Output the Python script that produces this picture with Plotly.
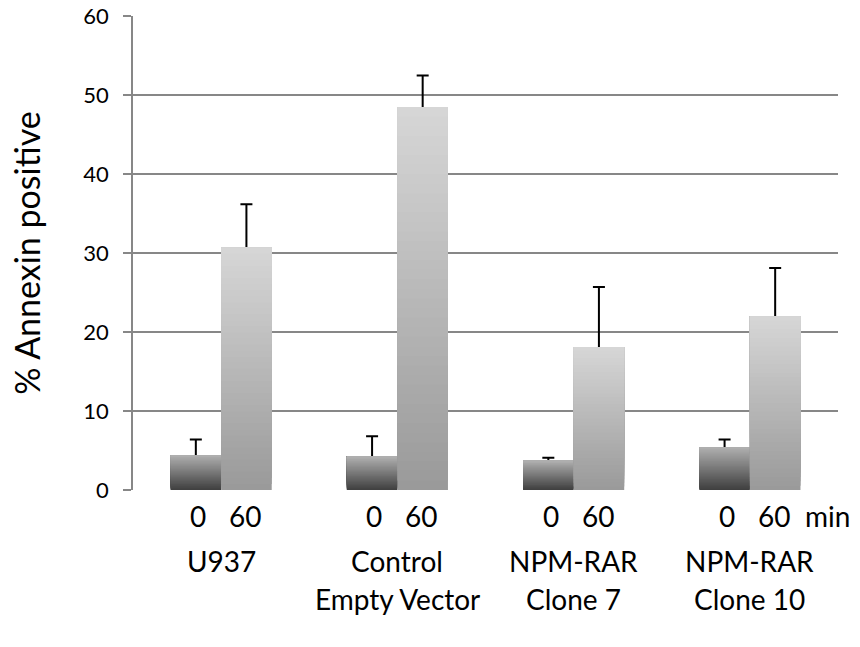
import plotly.graph_objects as go

# ---- data ----
categories = ["U937", "Control Empty Vector", "NPM-RAR Clone 7", "NPM-RAR Clone 10"]
label_line1 = ["U937", "Control", "NPM-RAR", "NPM-RAR"]
label_line2 = ["", "Empty Vector", "Clone 7", "Clone 10"]
time_labels = ["0", "60"]
values_0 = [4.4, 4.2, 3.7, 5.4]
err_0 = [2.0, 2.6, 0.4, 1.0]
values_60 = [30.7, 48.5, 18.1, 22.0]
err_60 = [5.5, 4.0, 7.6, 6.1]
y_ticks = [0, 10, 20, 30, 40, 50, 60]

FONT = "Lato, Open Sans, sans-serif"
N_SEG = 40
HIDDEN_MINUS = 0.4  # lower end of error bar tucked inside the bar (cap hidden)


def lerp(c1, c2, t):
    return "rgb(%d,%d,%d)" % tuple(round(a + (b - a) * t) for a, b in zip(c1, c2))


def gradient_bars(fig, values, errs, group, c_bottom, c_top):
    # overlapping bars: each layer starts higher and reaches the full value,
    # later layers paint over earlier ones -> smooth vertical gradient
    for i in range(N_SEG):
        t = i / (N_SEG - 1)
        base = [v * i / N_SEG for v in values]
        height = [v - b for v, b in zip(values, base)]
        kw = {}
        if i == 0:
            kw["error_y"] = dict(type="data", array=errs,
                                 arrayminus=[HIDDEN_MINUS] * len(errs),
                                 symmetric=False, color="black", thickness=2, width=6)
        fig.add_trace(go.Bar(
            x=categories, y=height, base=base, offsetgroup=group,
            marker=dict(color=lerp(c_bottom, c_top, t), line=dict(width=0)),
            showlegend=False, hoverinfo="skip", **kw))


fig = go.Figure()
gradient_bars(fig, values_0, err_0, "t0", (64, 64, 64), (174, 174, 174))
gradient_bars(fig, values_60, err_60, "t60", (154, 154, 154), (214, 214, 214))

LBL = dict(size=28, family=FONT, color="black")
annotations = []
for cat, l1, l2 in zip(categories, label_line1, label_line2):
    annotations.append(dict(x=cat, y=-0.055, xref="x", yref="paper", text=time_labels[0],
                            showarrow=False, xshift=-23, yanchor="middle", font=LBL))
    annotations.append(dict(x=cat, y=-0.055, xref="x", yref="paper", text=time_labels[1],
                            showarrow=False, xshift=24, yanchor="middle", font=LBL))
    annotations.append(dict(x=cat, y=-0.149, xref="x", yref="paper", text=l1,
                            showarrow=False, yanchor="middle", font=LBL))
    if l2:
        annotations.append(dict(x=cat, y=-0.229, xref="x", yref="paper", text=l2,
                                showarrow=False, yanchor="middle", font=LBL))
annotations.append(dict(x=categories[-1], y=-0.055, xref="x", yref="paper", text="min",
                        showarrow=False, xshift=53, xanchor="left", yanchor="middle",
                        font=LBL))

fig.update_layout(
    width=860, height=647,
    margin=dict(l=133, r=22, t=16, b=157, autoexpand=False),
    paper_bgcolor="white", plot_bgcolor="white",
    barmode="group", bargap=0.426, bargroupgap=0,
    annotations=annotations,
    font=dict(family=FONT, color="black"),
)
fig.update_xaxes(range=[-0.5, len(categories) - 0.5], showticklabels=False, ticks="",
                 showgrid=False, showline=False, zeroline=False, automargin=False)
fig.update_yaxes(range=[0, 60.03], tickvals=y_ticks, showgrid=True, gridcolor="#878787",
                 gridwidth=1.5, showline=True, linecolor="#878787", linewidth=1.5,
                 ticks="outside", ticklen=8, tickcolor="#878787", tickwidth=1.5,
                 ticklabelstandoff=10, ticklabeloverflow="allow", automargin=False,
                 zeroline=False, tickfont=dict(size=22, family=FONT, color="black"),
                 title=dict(text="% Annexin positive",
                            font=dict(size=34, family=FONT, color="black"),
                            standoff=32))

fig.write_html("out.html", config={"displayModeBar": False},
               post_script="document.body.style.margin='0';document.body.style.overflow='hidden';")
